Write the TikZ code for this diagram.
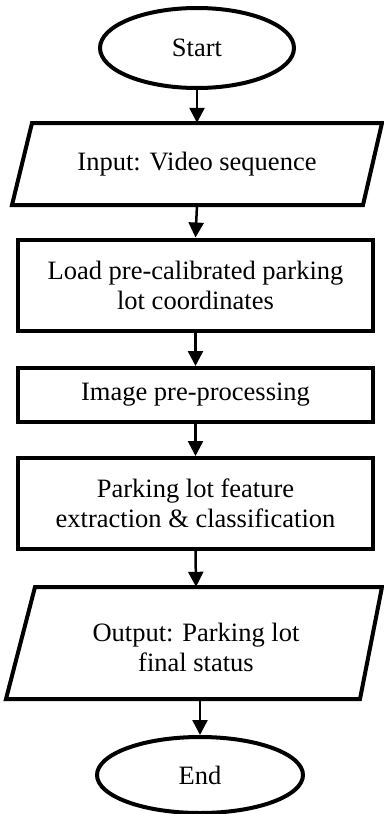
\documentclass[tikz,border=0pt]{standalone}
\usepackage{fontspec}
\setmainfont{Liberation Serif}
\usetikzlibrary{arrows.meta,shapes.geometric}
\begin{document}
\begin{tikzpicture}[x=1pt,y=-1pt,
  shapeline/.style={line width=4pt,line join=miter},
  ell/.style={shapeline,draw,ellipse,inner sep=0pt},
  boxnode/.style={shapeline,draw,rectangle,inner sep=0pt,minimum width=355pt,align=center},
  txt/.style={inner sep=0pt,align=center},
  conn/.style={line width=2.5pt,-{Triangle[length=15pt,width=15pt]}},
  font=\fontsize{26.5}{30}\selectfont]
\useasboundingbox (0,0) rectangle (383,814);
\node[ell,minimum width=194pt,minimum height=80pt] (start) at (197,48) {Start};
\draw[shapeline] (32,123) -- (382,123) -- (363,205) -- (12,205) -- cycle;
\node[txt,minimum width=350pt,minimum height=82pt] (inp) at (197,164) {Input: Video sequence};
\node[boxnode,minimum height=91pt] (load) at (195.5,285) {Load pre-calibrated parking\\lot coordinates};
\node[boxnode,minimum height=54pt] (img) at (195.5,395) {Image pre-processing};
\node[boxnode,minimum height=91pt] (feat) at (195.5,503.5) {Parking lot feature\\extraction \& classification};
\draw[shapeline] (35,587) -- (382,587) -- (360,699) -- (6,699) -- cycle;
\node[txt,minimum width=350pt,minimum height=112pt] (out) at (196,643) {};
\node[txt] (outtext) at (196,647) {Output: Parking lot\\final status};
\node[ell,minimum width=206pt,minimum height=76pt] (end) at (200,775) {End};
\draw[conn] (start.south) -- (inp.north);
\draw[conn] (inp.south) -- (load.north);
\draw[conn] (load.south) -- (img.north);
\draw[conn] (img.south) -- (feat.north);
\draw[conn] (feat.south) -- (out.north);
\draw[conn] (end.north |- out.south) -- (end.north);
\end{tikzpicture}
\end{document}
